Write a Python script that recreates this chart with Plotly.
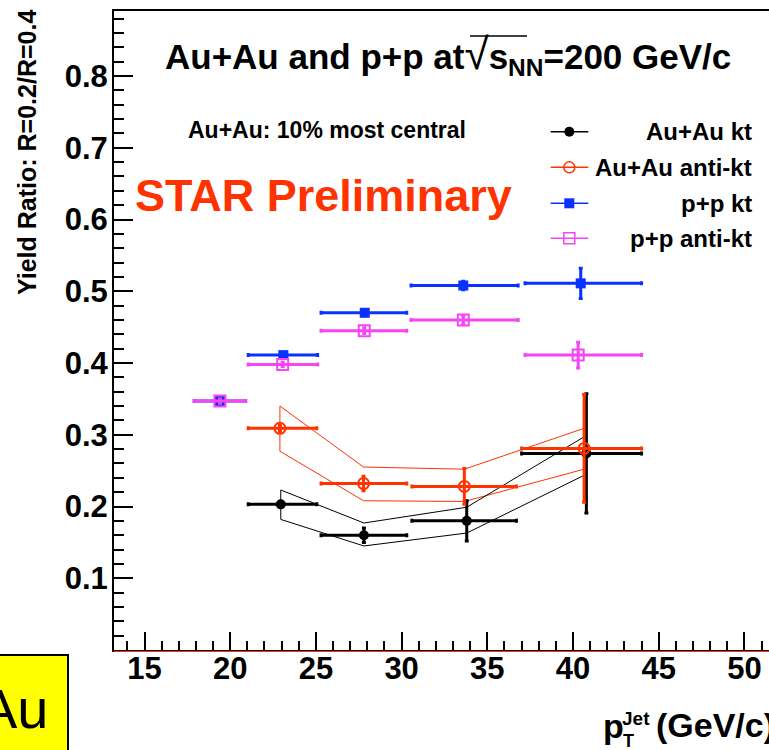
import plotly.graph_objects as go

# ---------------- data ----------------
aa_kt_x = [22.95, 27.8, 33.8, 40.78]
aa_akt_x = [22.9, 27.78, 33.66, 40.65]
aa_bin_lo = [21.05, 25.3, 30.6, 37.0]
aa_bin_hi = [25.05, 30.3, 36.7, 44.0]
aa_kt_y = [0.203, 0.160, 0.180, 0.274]
aa_kt_err = [0.004, 0.010, 0.028, 0.083]
aa_akt_y = [0.309, 0.232, 0.228, 0.281]
aa_akt_err = [0.004, 0.010, 0.025, 0.075]
aa_kt_sys_hi = [0.223, 0.177, 0.199, 0.299]
aa_kt_sys_lo = [0.182, 0.145, 0.163, 0.245]
aa_akt_sys_hi = [0.340, 0.255, 0.252, 0.309]
aa_akt_sys_lo = [0.277, 0.208, 0.207, 0.252]

pp_x = [19.4, 23.1, 27.85, 33.6, 40.45]
pp_akt_x = [19.4, 23.06, 27.82, 33.6, 40.3]
pp_bin_lo = [17.9, 21.05, 25.3, 30.55, 37.2]
pp_bin_hi = [20.9, 25.1, 30.3, 36.8, 44.0]
pp_kt_y = [0.347, 0.411, 0.470, 0.508, 0.511]
pp_kt_err = [0.003, 0.003, 0.004, 0.006, 0.021]
pp_akt_y = [0.347, 0.398, 0.445, 0.460, 0.411]
pp_akt_err = [0.003, 0.003, 0.004, 0.006, 0.018]

x_ticks = [15, 20, 25, 30, 35, 40, 45, 50]
y_ticks = [0.1, 0.2, 0.3, 0.4, 0.5, 0.6, 0.7, 0.8]

series_names = ["Au+Au kt", "Au+Au anti-kt", "p+p kt", "p+p anti-kt"]

# ---------------- style ----------------
BLACK = "#000000"
RED = "#ff3300"
BLUE = "#0a32ff"
MAG = "#f545f5"
FONT = "Liberation Sans, Arial, Helvetica, sans-serif"

# the canvas is a little wider than the 769px window so that the frame's
# right side falls outside the visible area, as in the (cropped) reference
W, H = 780, 750
L, R, T, B = 114, 780, 11, 650
XR = [13.22, 13.22 + (R - L) / 17.14]
YR = [0.0, 0.8906]


def px(x):
    return (x - L) / (R - L)


def py(y):
    return (B - y) / (B - T)


def xerrs(xs, lo, hi):
    return [h - x for x, h in zip(xs, hi)], [x - l for x, l in zip(xs, lo)]


fig = go.Figure()


def band(xs, hi, lo, color):
    bx = list(xs) + list(xs[::-1]) + [xs[0]]
    by = list(hi) + list(lo[::-1]) + [hi[0]]
    fig.add_trace(go.Scatter(x=bx, y=by, mode="lines",
                             line=dict(color=color, width=1),
                             hoverinfo="skip", showlegend=False))


band(aa_akt_x, aa_akt_sys_hi, aa_akt_sys_lo, RED)
band(aa_kt_x, aa_kt_sys_hi, aa_kt_sys_lo, BLACK)


def points(xs, ys, yerr, lo, hi, color, symbol, size, name, lw=0):
    ep, em = xerrs(xs, lo, hi)
    fig.add_trace(go.Scatter(
        x=xs, y=ys, mode="markers", name=name, showlegend=False,
        marker=dict(color=color, symbol=symbol, size=size,
                    line=dict(color=color, width=lw)),
        error_x=dict(type="data", symmetric=False, array=ep, arrayminus=em,
                     color=color, thickness=3, width=2),
        error_y=dict(type="data", array=yerr, color=color, thickness=3, width=2),
    ))


points(aa_kt_x, aa_kt_y, aa_kt_err, aa_bin_lo, aa_bin_hi, BLACK, "circle", 10, series_names[0])
points(aa_akt_x, aa_akt_y, aa_akt_err, aa_bin_lo, aa_bin_hi, RED, "circle-open", 11, series_names[1], 2)
points(pp_x, pp_kt_y, pp_kt_err, pp_bin_lo, pp_bin_hi, BLUE, "square", 10, series_names[2])
points(pp_akt_x, pp_akt_y, pp_akt_err, pp_bin_lo, pp_bin_hi, MAG, "square-open", 11, series_names[3], 2)

# ---------------- manual legend ----------------
leg_rows = [131.7, 167.3, 203.3, 238.3]
leg_cols = [BLACK, RED, BLUE, MAG]
leg_syms = ["circle", "circle-open", "square", "square-open"]
leg_sizes = [10, 11, 10, 11]
shapes = []
annos = []
for yrow, c, s, sz, nm in zip(leg_rows, leg_cols, leg_syms, leg_sizes, series_names):
    shapes.append(dict(type="line", xref="paper", yref="paper",
                       x0=px(550.7), x1=px(588.3), y0=py(yrow), y1=py(yrow),
                       line=dict(color=c, width=1.5)))
    fig.add_trace(go.Scatter(x=[px(569.3)], y=[py(yrow)], xaxis="x2", yaxis="y2",
                             mode="markers", showlegend=False, hoverinfo="skip",
                             marker=dict(color=c, symbol=s, size=sz,
                                         line=dict(color=c, width=1.5 if "open" in s else 0))))
    annos.append(dict(text=nm, xref="paper", yref="paper", x=px(753.5), y=py(yrow),
                      xanchor="right", yanchor="middle", showarrow=False,
                      font=dict(family=FONT, size=24, color=BLACK, weight="bold")))

# ---------------- texts ----------------
annos.append(dict(text="Au+Au and p+p at<span style='font-size:44px;font-weight:normal'>√</span>s<sub>NN</sub>=200 GeV/c",
                  xref="paper", yref="paper",
                  x=px(163), y=py(55), xanchor="left", yanchor="middle", showarrow=False,
                  font=dict(family=FONT, size=35, color=BLACK, weight="bold")))
shapes.append(dict(type="line", xref="paper", yref="paper",
                   x0=px(470), x1=px(527), y0=py(36), y1=py(36),
                   line=dict(color=BLACK, width=1.5)))
annos.append(dict(text="Au+Au: 10% most central", xref="paper", yref="paper",
                  x=px(186), y=py(129.5), xanchor="left", yanchor="middle", showarrow=False,
                  font=dict(family=FONT, size=23, color=BLACK, weight="bold")))
annos.append(dict(text="STAR Preliminary", xref="paper", yref="paper",
                  x=px(133), y=py(196), xanchor="left", yanchor="middle", showarrow=False,
                  font=dict(family=FONT, size=45, color=RED, weight="bold")))
annos.append(dict(text="Yield Ratio: R=0.2/R=0.4", xref="paper", yref="paper",
                  x=px(27), y=py(153), xanchor="center", yanchor="middle", showarrow=False,
                  textangle=-90,
                  font=dict(family=FONT, size=25, color=BLACK, weight="bold")))
# x-axis title pieces
annos.append(dict(text="p", xref="paper", yref="paper", x=px(601), y=py(726),
                  xanchor="left", yanchor="middle", showarrow=False,
                  font=dict(family=FONT, size=34, color=BLACK, weight="bold")))
annos.append(dict(text="Jet", xref="paper", yref="paper", x=px(620), y=py(718),
                  xanchor="left", yanchor="middle", showarrow=False,
                  font=dict(family=FONT, size=19, color=BLACK, weight="bold")))
annos.append(dict(text="T", xref="paper", yref="paper", x=px(621), y=py(741),
                  xanchor="left", yanchor="middle", showarrow=False,
                  font=dict(family=FONT, size=18, color=BLACK, weight="bold")))
annos.append(dict(text="(GeV/c)", xref="paper", yref="paper", x=px(654), y=py(725),
                  xanchor="left", yanchor="middle", showarrow=False,
                  font=dict(family=FONT, size=34, color=BLACK, weight="bold")))
# yellow box fragment
shapes.append(dict(type="rect", xref="paper", yref="paper",
                   x0=px(-10), x1=px(68), y0=py(655), y1=py(770),
                   fillcolor="#ffff00", line=dict(color=BLACK, width=2), layer="above"))
annos.append(dict(text="Au", xref="paper", yref="paper", x=px(51), y=py(708),
                  xanchor="right", yanchor="middle", showarrow=False,
                  font=dict(family=FONT, size=56, color=BLACK)))
# thin red line along the bottom of the frame
shapes.append(dict(type="line", xref="paper", yref="paper", x0=0, x1=1,
                   y0=py(651.5), y1=py(651.5), line=dict(color=RED, width=1)))

fig.update_layout(
    width=W, height=H,
    margin=dict(l=L, r=W - R, t=T, b=H - B, autoexpand=False),
    paper_bgcolor="white", plot_bgcolor="white",
    showlegend=False,
    shapes=shapes, annotations=annos,
    xaxis=dict(range=XR, showgrid=False, zeroline=False, showline=True, mirror=True,
               linecolor=BLACK, linewidth=2, ticks="inside", ticklen=18, tickwidth=1.5,
               tickcolor=BLACK, tickvals=x_ticks, ticklabelstandoff=-10,
               tickfont=dict(family=FONT, size=31, color=BLACK, weight="bold"),
               minor=dict(tickmode="linear", tick0=0, dtick=1, ticks="inside",
                          ticklen=9, tickwidth=1.5, tickcolor=BLACK)),
    yaxis=dict(range=YR, showgrid=False, zeroline=False, showline=True, mirror=False,
               linecolor=BLACK, linewidth=2, ticks="inside", ticklen=19, tickwidth=1.5,
               tickcolor=BLACK, tickvals=y_ticks, ticklabelstandoff=-2,
               tickfont=dict(family=FONT, size=31, color=BLACK, weight="bold"),
               minor=dict(tickmode="linear", tick0=0, dtick=0.02, ticks="inside",
                          ticklen=10, tickwidth=1.5, tickcolor=BLACK)),
    xaxis2=dict(domain=[0, 1], range=[0, 1], overlaying="x", anchor="y2", visible=False),
    yaxis2=dict(domain=[0, 1], range=[0, 1], overlaying="y", anchor="x2", visible=False),
)

fig.write_html("out.html",
               config={"displayModeBar": False},
               post_script="document.body.style.margin='0';document.body.style.overflow='hidden';"
                           "document.documentElement.style.overflow='hidden';")
